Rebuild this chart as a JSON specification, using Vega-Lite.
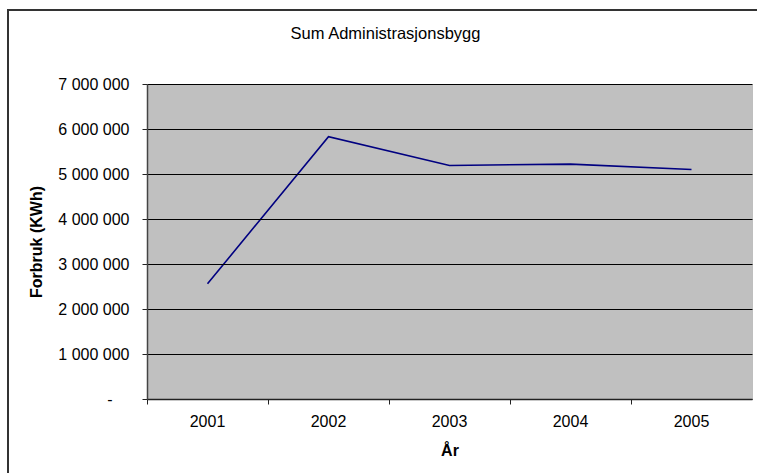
{
  "$schema": "https://vega.github.io/schema/vega-lite/v6.json",
  "width": 749,
  "height": 463,
  "autosize": {"type": "none"},
  "padding": {"left": 8, "top": 10, "right": 0, "bottom": 0},
  "background": "white",
  "title": {
    "text": "Sum Administrasjonsbygg",
    "anchor": "middle",
    "frame": "group",
    "offset": -40,
    "baseline": "middle",
    "fontSize": 16.5,
    "fontWeight": "normal",
    "font": "Liberation Sans",
    "color": "#000000",
    "dx": 3
  },
  "config": {
    "font": "Liberation Sans",
    "view": {"stroke": "#333333", "strokeWidth": 2, "strokeDash": [749, 1212, 463], "fill": "white"}
  },
  "data": {
    "values": [
      {"year": "2001", "value": 2560000},
      {"year": "2002", "value": 5830000},
      {"year": "2003", "value": 5190000},
      {"year": "2004", "value": 5220000},
      {"year": "2005", "value": 5100000}
    ]
  },
  "layer": [
    {
      "mark": {"type": "rect", "fill": "#c0c0c0"},
      "encoding": {
        "x": {
          "field": "year",
          "type": "ordinal",
          "scale": {"type": "band", "range": [139, 744], "paddingInner": 0, "paddingOuter": 0},
          "axis": {
            "orient": "bottom",
            "offset": -74,
            "bandPosition": 0,
            "grid": false,
            "domainColor": "#222222",
            "domainWidth": 1.5,
            "tickColor": "#222222",
            "tickSize": 5,
            "labelAngle": 0,
            "labelFontSize": 16,
            "labelColor": "#000000",
            "labelPadding": 9,
            "title": "År",
            "titleFontSize": 16,
            "titleFontWeight": "bold",
            "titleColor": "#000000",
            "titlePadding": 13
          }
        },
        "y": {
          "datum": 7000000,
          "type": "quantitative",
          "scale": {"domain": [0, 7000000], "range": [389, 74], "nice": false, "zero": true},
          "axis": {
            "orient": "right",
            "offset": -6,
            "domainColor": "#808080",
            "domainWidth": 2,
            "labels": false,
            "ticks": false,
            "grid": false,
            "title": null
          }
        },
        "y2": {"datum": 0}
      }
    },
    {
      "mark": {"type": "line", "color": "#000080", "strokeWidth": 1.6},
      "encoding": {
        "x": {
          "field": "year",
          "type": "ordinal",
          "scale": {"type": "band", "range": [139, 744], "paddingInner": 0, "paddingOuter": 0}
        },
        "y": {
          "field": "value",
          "type": "quantitative",
          "scale": {"domain": [0, 7000000], "range": [389, 74], "nice": false, "zero": true},
          "axis": {
            "orient": "left",
            "offset": -139,
            "values": [0, 1000000, 2000000, 3000000, 4000000, 5000000, 6000000, 7000000],
            "labelExpr": "datum.value == 0 ? '-' : replace(format(datum.value, ',d'), regexp(',', 'g'), ' ')",
            "grid": true,
            "gridColor": "#000000",
            "gridWidth": 1,
            "zindex": 1,
            "domainColor": "#444444",
            "domainWidth": 1.5,
            "tickColor": "#222222",
            "tickSize": 5,
            "labelFontSize": 16,
            "labelColor": "#000000",
            "labelPadding": {"condition": {"test": "datum.value == 0", "value": 30}, "value": 13},
            "title": "Forbruk (KWh)",
            "titleFontSize": 16,
            "titleFontWeight": "bold",
            "titleColor": "#000000",
            "titlePadding": 13
          }
        }
      }
    }
  ],
  "resolve": {"axis": {"y": "independent"}}
}
